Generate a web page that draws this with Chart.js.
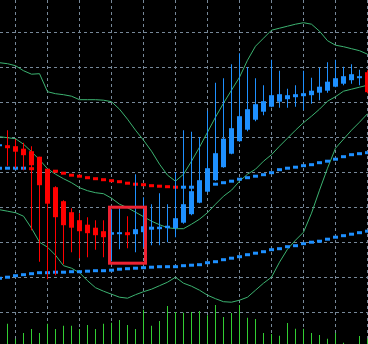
<!DOCTYPE html>
<html>
<head>
<meta charset="utf-8">
<script src="https://cdn.jsdelivr.net/npm/chart.js@4.4.1/dist/chart.umd.min.js"></script>
<style>
  html, body { margin: 0; padding: 0; background: #000; }
  #wrap { width: 368px; height: 344px; }
</style>
</head>
<body>
<div id="wrap"><canvas id="chart" width="368" height="344"></canvas></div>
<script>
// one entry per bar, oldest on the left
const openP = [1.1854, 1.1855, 1.1854, 1.18515, 1.1849, 1.18435, 1.1831, 1.1813, 1.1799, 1.1788, 1.1780, 1.17755, 1.17725, 1.1769, 1.17655, 1.1766, 1.1768, 1.1766, 1.1768, 1.17705, 1.1771, 1.1772, 1.1772, 1.17775, 1.1786, 1.17975, 1.18085, 1.1820, 1.1833, 1.18465, 1.1859, 1.18705, 1.18805, 1.18885, 1.18935, 1.18985, 1.1901, 1.1903, 1.1904, 1.1905, 1.19075, 1.19095, 1.19135, 1.19165, 1.1920, 1.1922, 1.1928];
const closeP = [1.1856, 1.1852, 1.18485, 1.1845, 1.1835, 1.1815, 1.17965, 1.1783, 1.1775, 1.17725, 1.1769, 1.1767, 1.1765, 1.1763, 1.1768, 1.1768, 1.1765, 1.1771, 1.1774, 1.17735, 1.17735, 1.17745, 1.1782, 1.1796, 1.1809, 1.1820, 1.1832, 1.1847, 1.18615, 1.1872, 1.1884, 1.1891, 1.1896, 1.1899, 1.1905, 1.1906, 1.1905, 1.1906, 1.1907, 1.19095, 1.19135, 1.19185, 1.1922, 1.1924, 1.1926, 1.1924, 1.1908];
const highP = [1.1859, 1.1870, 1.1861, 1.18575, 1.1854, 1.18435, 1.1831, 1.1814, 1.1800, 1.1792, 1.1787, 1.1783, 1.1780, 1.1780, 1.1791, 1.1792, 1.1784, 1.1826, 1.1803, 1.1796, 1.1807, 1.1796, 1.1828, 1.1870, 1.18685, 1.1863, 1.18895, 1.19175, 1.1922, 1.1936, 1.1947, 1.1933, 1.1922, 1.1915, 1.19405, 1.19295, 1.19115, 1.1915, 1.19295, 1.19225, 1.19325, 1.1938, 1.19405, 1.19335, 1.1936, 1.19305, 1.1930];
const lowP = [1.1851, 1.18345, 1.1832, 1.1830, 1.1770, 1.17385, 1.1721, 1.1725, 1.1736, 1.1748, 1.1742, 1.1743, 1.17505, 1.1743, 1.1739, 1.1751, 1.1752, 1.1748, 1.1753, 1.1755, 1.1755, 1.1758, 1.1763, 1.17765, 1.1785, 1.1797, 1.1808, 1.18195, 1.18325, 1.1846, 1.18585, 1.1869, 1.1879, 1.1885, 1.1893, 1.18925, 1.18925, 1.18935, 1.1890, 1.18965, 1.1900, 1.19075, 1.1913, 1.1915, 1.19165, 1.1915, 1.1907];

// dotted moving averages
const maFast = [1.1832, 1.1832, 1.1832, 1.1832, 1.18315, 1.1831, 1.1830, 1.1829, 1.1827, 1.1825, 1.1824, 1.18225, 1.18215, 1.18205, 1.18195, 1.18185, 1.1817, 1.1816, 1.18155, 1.18145, 1.1814, 1.18135, 1.1813, 1.1813, 1.1813, 1.1814, 1.1815, 1.1816, 1.18175, 1.1819, 1.1821, 1.18225, 1.1824, 1.18255, 1.18275, 1.18305, 1.1832, 1.1833, 1.18345, 1.18355, 1.18375, 1.1839, 1.1841, 1.18435, 1.18455, 1.18465, 1.18475];
const maSlow = [1.1722, 1.1723, 1.17245, 1.17255, 1.17265, 1.17275, 1.17275, 1.1728, 1.1728, 1.17285, 1.17285, 1.1729, 1.17295, 1.17295, 1.1730, 1.1731, 1.17315, 1.1732, 1.17325, 1.1733, 1.17335, 1.17335, 1.17335, 1.17345, 1.1735, 1.17355, 1.17375, 1.17385, 1.17405, 1.1742, 1.17435, 1.17455, 1.1747, 1.17485, 1.17505, 1.17515, 1.17535, 1.17545, 1.17565, 1.1758, 1.1759, 1.1761, 1.1763, 1.17645, 1.1766, 1.17675, 1.1769];

// bollinger bands
const bbUpper = [1.19375, 1.19365, 1.19345, 1.19295, 1.1926, 1.19265, 1.19085, 1.19065, 1.19055, 1.1904, 1.19005, 1.19005, 1.19005, 1.1900, 1.18985, 1.1891, 1.1881, 1.1870, 1.1860, 1.1849, 1.1836, 1.1825, 1.1819, 1.1826, 1.1839, 1.1853, 1.1868, 1.1883, 1.1897, 1.1910, 1.1923, 1.1940, 1.1954, 1.1962, 1.1970, 1.1972, 1.1974, 1.1976, 1.19775, 1.1976, 1.1969, 1.19595, 1.1955, 1.19535, 1.19515, 1.19495, 1.1946];
const bbMiddle = [1.18635, 1.18625, 1.18615, 1.1856, 1.18485, 1.18405, 1.18315, 1.1826, 1.18215, 1.18175, 1.18125, 1.18095, 1.18075, 1.18065, 1.1802, 1.1796, 1.17925, 1.1788, 1.17835, 1.1779, 1.17755, 1.17725, 1.17715, 1.17715, 1.1776, 1.1781, 1.17875, 1.1796, 1.1804, 1.1810, 1.1819, 1.1826, 1.1831, 1.1839, 1.18455, 1.1854, 1.1862, 1.1870, 1.18775, 1.1884, 1.1891, 1.1899, 1.19035, 1.1909, 1.1911, 1.1913, 1.1915];
const bbLower = [1.17905, 1.1789, 1.17875, 1.1784, 1.1772, 1.1758, 1.1753, 1.1745, 1.17345, 1.1732, 1.17275, 1.17195, 1.17125, 1.1709, 1.1706, 1.1703, 1.1702, 1.17055, 1.17085, 1.1711, 1.17145, 1.1718, 1.1723, 1.1717, 1.1714, 1.1710, 1.1705, 1.17015, 1.16985, 1.1698, 1.1700, 1.1703, 1.1710, 1.1717, 1.1723, 1.1738, 1.1751, 1.1760, 1.1768, 1.1787, 1.1810, 1.1832, 1.1852, 1.1861, 1.1870, 1.1878, 1.18865];

// tick volume
const volume = [200, 203, 53, 110, 150, 110, 203, 150, 183, 183, 150, 190, 150, 203, 213, 240, 190, 150, 343, 183, 230, 380, 320, 313, 320, 330, 287, 390, 270, 310, 390, 263, 250, 110, 100, 83, 210, 153, 153, 110, 90, 53, 110, 13, 0, 80, 53];

// grid positions (bar index / price)
const gridX = [2, 6, 10, 14, 18, 22, 26, 30, 34, 38, 42, 46];
const gridY = [1.1968, 1.1933, 1.1898, 1.1863, 1.1828, 1.1793, 1.1758, 1.1723, 1.1688];

// the red box drawn on the chart
const box = { from: 13.75, to: 18.25, top: 1.1793, bottom: 1.1737 };

const UP = '#1e90ff';
const DOWN = '#ff0000';
const BAND = '#3cb371';

const pts = arr => arr.map((v, i) => ({ x: i, y: v }));
const candleColors = openP.map((o, i) => closeP[i] >= o ? UP : DOWN);
const bodies = openP.map((o, i) => ({ x: i, y: [o, closeP[i]] }));
const wicks = lowP.map((l, i) => ({ x: i, y: [l, highP[i]] }));
// falling average is red, otherwise blue
const maColors = maFast.map((v, i) => i > 0 && v < maFast[i - 1] ? DOWN : UP);

const bgPlugin = {
    id: 'bg',
    beforeDraw(chart) {
        const ctx = chart.ctx;
        ctx.save();
        ctx.fillStyle = '#000';
        ctx.fillRect(0, 0, chart.width, chart.height);
        ctx.restore();
    }
};

const boxPlugin = {
    id: 'box',
    afterDatasetsDraw(chart) {
        const { ctx, scales } = chart;
        const l = scales.x.getPixelForValue(box.from);
        const r = scales.x.getPixelForValue(box.to);
        const t = scales.y.getPixelForValue(box.top);
        const b = scales.y.getPixelForValue(box.bottom);
        ctx.save();
        ctx.strokeStyle = '#ee2233';
        ctx.lineWidth = 3;
        ctx.strokeRect(l, t, r - l, b - t);
        ctx.restore();
    }
};

const barDefaults = {
    type: 'bar',
    grouped: false,
    borderWidth: 0,
    inflateAmount: 0,
    categoryPercentage: 1,
    barPercentage: 1
};

const lineDefaults = {
    type: 'line',
    borderWidth: 1,
    pointRadius: 0,
    tension: 0,
    fill: false
};

new Chart(document.getElementById('chart'), {
    type: 'bar',
    data: {
        datasets: [
            { ...barDefaults, label: 'body', data: bodies, backgroundColor: candleColors, barThickness: 5, maxBarThickness: 5, minBarLength: 1, order: 0 },
            { ...barDefaults, label: 'wick', data: wicks, backgroundColor: candleColors, barThickness: 1, maxBarThickness: 1, order: 1 },
            {
                type: 'line', label: 'MA fast', data: pts(maFast), showLine: false,
                pointStyle: 'line', pointRadius: 2.5, pointBorderWidth: 3,
                pointBorderColor: maColors, pointBackgroundColor: maColors, order: 2
            },
            {
                type: 'line', label: 'MA slow', data: pts(maSlow), showLine: false,
                pointStyle: 'line', pointRadius: 2.5, pointBorderWidth: 3,
                pointBorderColor: UP, pointBackgroundColor: UP, order: 3
            },
            { ...lineDefaults, label: 'BB upper', data: pts(bbUpper), borderColor: BAND, order: 4 },
            { ...lineDefaults, label: 'BB middle', data: pts(bbMiddle), borderColor: BAND, order: 5 },
            { ...lineDefaults, label: 'BB lower', data: pts(bbLower), borderColor: BAND, order: 6 },
            { ...barDefaults, label: 'volume', data: pts(volume), yAxisID: 'yv', backgroundColor: '#32cd32', barThickness: 1, maxBarThickness: 1, order: 7 }
        ]
    },
    options: {
        responsive: false,
        animation: false,
        events: [],
        layout: { padding: 0, autoPadding: false },
        plugins: {
            legend: { display: false },
            tooltip: { enabled: false }
        },
        scales: {
            x: {
                type: 'linear',
                min: 0.0625,
                max: 46.0625,
                bounds: 'data',
                offset: false,
                afterBuildTicks: scale => { scale.ticks = gridX.map(v => ({ value: v })); },
                ticks: { display: false },
                grid: { color: '#778899', lineWidth: 1, drawTicks: false, offset: false },
                border: { display: false, dash: [3, 3] }
            },
            y: {
                type: 'linear',
                min: 1.16562,
                max: 1.20002,
                bounds: 'data',
                beginAtZero: false,
                afterBuildTicks: scale => { scale.ticks = gridY.map(v => ({ value: v })); },
                ticks: { display: false },
                grid: { color: '#778899', lineWidth: 1, drawTicks: false },
                border: { display: false, dash: [3, 3] }
            },
            yv: {
                type: 'linear',
                display: false,
                min: 0,
                max: 3440
            }
        }
    },
    plugins: [bgPlugin, boxPlugin]
});
</script>
</body>
</html>
